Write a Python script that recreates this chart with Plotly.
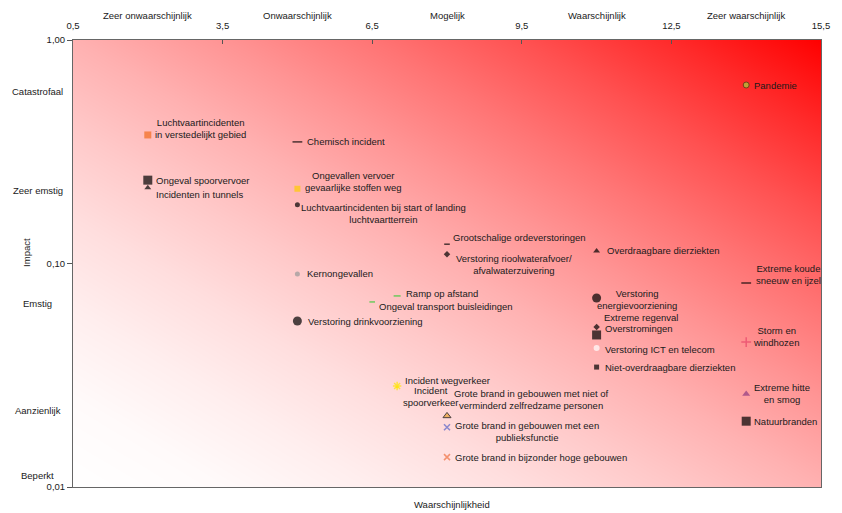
import numpy as np
import plotly.graph_objects as go

# risk scenarios: likelihood (x) and impact (y, log scale)
names = [
    'Luchtvaartincidenten<br>in verstedelijkt gebied', 'Ongeval spoorvervoer', 'Incidenten in tunnels',
    'Chemisch incident', 'Ongevallen vervoer<br>gevaarlijke stoffen weg',
    'Luchtvaartincidenten bij start of landing<br>luchtvaartterrein', 'Kernongevallen',
    'Verstoring drinkvoorziening', 'Ramp op afstand', 'Ongeval transport buisleidingen',
    'Grootschalige ordeverstoringen', 'Verstoring rioolwaterafvoer/<br>afvalwaterzuivering',
    'Overdraagbare dierziekten', 'Verstoring<br>energievoorziening', 'Extreme regenval',
    'Overstromingen', 'Verstoring ICT en telecom', 'Niet-overdraagbare dierziekten',
    'Extreme koude<br>sneeuw en ijzel', 'Storm en<br>windhozen', 'Extreme hitte<br>en smog',
    'Natuurbranden', 'Pandemie', 'Incident wegverkeer', 'Incident<br>spoorverkeer',
    'Grote brand in gebouwen met niet of<br>verminderd zelfredzame personen',
    'Grote brand in gebouwen met een<br>publieksfunctie', 'Grote brand in bijzonder hoge gebouwen',
]
likelihood = [2, 2, 2, 5, 5, 5, 5, 5, 7, 6.5, 8, 8, 11, 11, 11, 11, 11, 11,
              14, 14, 14, 14, 14, 7, 7, 8, 8, 8]
impact = [0.376, 0.236, 0.218, 0.350, 0.216, 0.183, 0.0898, 0.0553, 0.0716, 0.0673,
          0.122, 0.110, 0.1138, 0.0701, 0.052, 0.0479, 0.0419, 0.0344,
          0.0818, 0.0445, 0.0261, 0.0197, 0.629, 0.0283, 0.0281, 0.0208, 0.0185, 0.0136]

x_ticks = [0.5, 3.5, 6.5, 9.5, 12.5, 15.5]
x_ticktext = ['0,5', '3,5', '6,5', '9,5', '12,5', '15,5']
x_cats = ['Zeer onwaarschijnlijk', 'Onwaarschijnlijk', 'Mogelijk', 'Waarschijnlijk', 'Zeer waarschijnlijk']
x_cat_pos = [2, 5, 8, 11, 14]
y_ticks = [1, 0.1, 0.01]
y_ticktext = ['1,00', '0,10', '0,01']
y_cats = ['Catastrofaal', 'Zeer emstig', 'Emstig', 'Aanzienlijk', 'Beperkt']
y_cat_pos = [0.59, 0.213, 0.0665, 0.0221, 0.0113]
y_cat_bounds = [1, 1 / 3, 1 / 9, 1 / 27, 1 / 81]

# marker styles per point
symbols = ['square', 'square', 'triangle-up', 'line-ew', 'square', 'circle', 'circle', 'circle',
           'line-ew', 'line-ew', 'line-ew', 'diamond', 'triangle-up', 'circle', 'diamond', 'square',
           'circle', 'square', 'line-ew', 'cross-thin', 'triangle-up', 'square', 'circle',
           'asterisk', 'circle', 'triangle-up', 'x-thin', 'x-thin']
colors = ['#f26b1d', 'black', 'black', 'black', '#ffcc00', 'black', '#999999', 'black',
          '#33cc33', '#33cc33', 'black', 'black', 'black', 'black', 'black', 'black',
          'white', 'black', 'black', '#e8456a', '#8e3b82', 'black', '#a8d43a',
          '#ffe600', '#ffe600', '#e8a030', '#5a64c8', '#f07040']
sizes = [7, 9, 6, 7, 6, 5, 5, 9, 5, 4, 4, 5, 6, 9, 5, 9, 6, 5, 7, 7, 7, 9, 6, 7, 3, 7, 6, 6]
line_colors = list(colors)
line_colors[22] = '#3a4a10'
line_colors[25] = 'black'
line_widths = [0, 0, 0, 1.5, 0, 0, 0, 0, 1.5, 1.5, 1.5, 0, 0, 0, 0, 0, 0, 0, 1.5, 1.5, 0, 0, 1,
               1.5, 0, 1, 1.5, 1.5]

# label placement: (xshift, yshift) in px, left anchored
label_pos = [(5, 6), (6, 0), (6, -7), (8, 0), (6, 7), (2, -9), (8, 0), (9, 0), (7, 2), (5, -5),
             (4, 7), (7, -10), (8, 0), (-2, -2), (5, 9), (6, 6), (6, -2), (6, 0), (8, 9), (5, 6),
             (6, 0), (6, 0), (6, 0), (6, 6), (4, -10), (5, 16), (6, -4), (6, 0)]

FONT = 'Arial, Liberation Sans, sans-serif'
FS = 9.5
fig = go.Figure()

# background gradient white -> red
n = 40
g = np.linspace(0, 1, n)
zz = (g[None, :] + g[:, None]) / 2
cs = [[s, 'rgb(255,%d,%d)' % (round(255 * (1 - s ** 1.7)), round(255 * (1 - s ** 1.7)))]
      for s in np.linspace(0, 1, 11)]
fig.add_trace(go.Heatmap(x=g, y=g, z=zz, zsmooth='best', colorscale=cs, showscale=False,
                         hoverinfo='skip', xaxis='x', yaxis='y'))

fig.add_trace(go.Scatter(
    x=likelihood, y=impact, mode='markers', xaxis='x2', yaxis='y2',
    marker=dict(symbol=symbols, color=colors, size=sizes,
                line=dict(color=line_colors, width=line_widths)),
    hovertext=names, hoverinfo='text', showlegend=False,
))

for t, xv, yv, (dx, dy) in zip(names, likelihood, impact, label_pos):
    fig.add_annotation(x=xv, y=np.log10(yv), xref='x2', yref='y2', text=t, showarrow=False,
                       xanchor='left', yanchor='middle', xshift=dx, yshift=dy, align='center',
                       font=dict(size=FS, color='#1a1a1a', family=FONT))

for t, xv in zip(x_cats, x_cat_pos):
    fig.add_annotation(x=xv, y=1.054, xref='x2', yref='paper', text=t, showarrow=False,
                       xanchor='center', yanchor='middle',
                       font=dict(size=FS, color='#1a1a1a', family=FONT))
for t, yv in zip(y_cats, y_cat_pos):
    fig.add_annotation(x=-0.047, y=np.log10(yv), xref='paper', yref='y2', text=t, showarrow=False,
                       xanchor='center', yanchor='middle',
                       font=dict(size=FS, color='#1a1a1a', family=FONT))
for yv in y_cat_bounds:
    fig.add_shape(type='line', xref='paper', yref='y2', x0=-0.0134, x1=0.0094,
                  y0=np.log10(yv), y1=np.log10(yv), line=dict(color='black', width=3.5))

fig.add_annotation(x=-0.0615, y=0.526, xref='paper', yref='paper', text='Impact', textangle=-90,
                   xanchor='center', yanchor='middle',
                   showarrow=False, font=dict(size=FS, color='#1a1a1a', family=FONT))
fig.add_annotation(x=0.507, y=-0.04, xref='paper', yref='paper', text='Waarschijnlijkheid',
                   xanchor='center', yanchor='middle',
                   showarrow=False, font=dict(size=FS, color='#1a1a1a', family=FONT))

fig.update_layout(
    width=834, height=505,
    margin=dict(l=65, r=21, t=32, b=26),
    paper_bgcolor='white', plot_bgcolor='white',
    font=dict(family=FONT, size=FS, color='#1a1a1a'),
    showlegend=False,
    xaxis=dict(range=[0, 1], visible=False, fixedrange=True),
    yaxis=dict(range=[0, 1], visible=False, fixedrange=True),
    xaxis2=dict(overlaying='x', side='top', anchor='y2', range=[0.5, 15.5],
                tickvals=x_ticks, ticktext=x_ticktext, ticks='inside', ticklen=4,
                tickcolor='#555', showgrid=False, zeroline=False, showline=True,
                linecolor='#666', linewidth=1, mirror=True, ticklabelstandoff=6),
    yaxis2=dict(overlaying='y', type='log', anchor='x2', range=[-2, 0],
                tickvals=y_ticks, ticktext=y_ticktext, ticks='outside', ticklen=5,
                tickcolor='#555', showgrid=False, zeroline=False, showline=True,
                linecolor='#666', linewidth=1, mirror=True),
)

fig.write_html('out.html')
